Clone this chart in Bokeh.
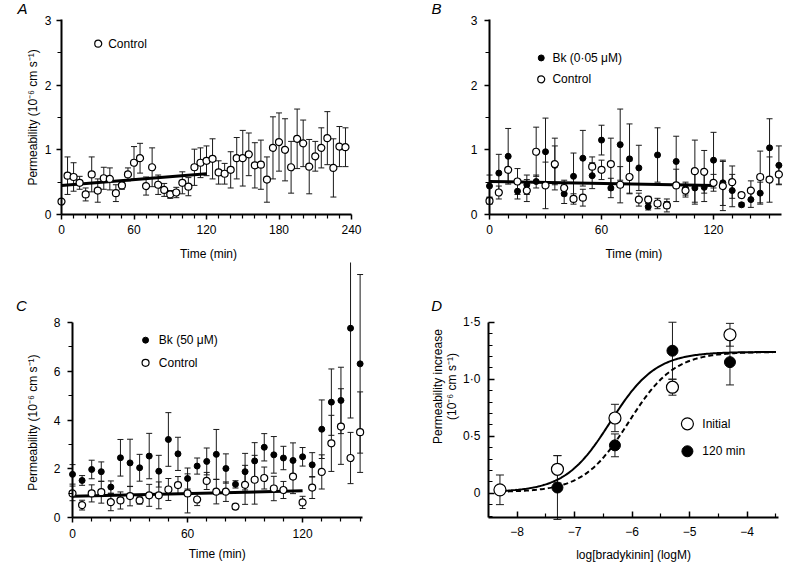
import numpy as np
from bokeh.plotting import figure
from bokeh.layouts import column, row
from bokeh.models import FixedTicker, Label, Range1d
from bokeh.embed import file_html
from bokeh.resources import INLINE

FONT = "Liberation Sans"
FS = "12px"

# ---------------- data ----------------
# Panel A: control, 0-235 min
a_time = [0, 5, 10, 15, 20, 25, 30, 35, 40, 45, 50, 55, 60, 65, 70, 75, 80, 85, 90, 95,
          100, 105, 110, 115, 120, 125, 130, 135, 140, 145, 150, 155, 160, 165, 170, 175,
          180, 185, 190, 195, 200, 205, 210, 215, 220, 225, 230, 235]
a_ctrl = [0.20, 0.60, 0.58, 0.49, 0.31, 0.62, 0.37, 0.56, 0.55, 0.33, 0.45, 0.62, 0.80, 0.87,
          0.44, 0.73, 0.46, 0.38, 0.31, 0.34, 0.49, 0.43, 0.73, 0.80, 0.83, 0.86, 0.65, 0.63,
          0.69, 0.87, 0.87, 0.93, 0.76, 0.77, 0.54, 1.03, 1.12, 1.00, 0.73, 1.17, 1.10, 0.74,
          0.90, 1.03, 1.18, 0.72, 1.05, 1.04]
a_err = [0.00, 0.29, 0.22, 0.10, 0.10, 0.27, 0.18, 0.17, 0.17, 0.13, 0.06, 0.10, 0.25, 0.23,
         0.14, 0.30, 0.15, 0.10, 0.06, 0.08, 0.17, 0.14, 0.28, 0.23, 0.23, 0.31, 0.18, 0.16,
         0.28, 0.32, 0.43, 0.33, 0.35, 0.38, 0.35, 0.48, 0.45, 0.48, 0.40, 0.46, 0.36, 0.42,
         0.23, 0.31, 0.41, 0.45, 0.31, 0.30]
a_fit = [0.45, 0.0015]       # intercept, slope (per min), fitted over 0-120 min

# Panel B: Bk 0.05 uM vs control, 0-155 min
b_time = [0, 5, 10, 15, 20, 25, 30, 35, 40, 45, 50, 55, 60, 65, 70, 75, 80, 85, 90, 95,
          100, 105, 110, 115, 120, 125, 130, 135, 140, 145, 150, 155]
b_bk = [0.44, 0.64, 0.90, 0.36, 0.46, 0.51, 0.97, 0.76, 0.32, 0.59, 0.87, 0.60, 1.15, 0.41,
        1.08, 0.86, 0.72, 0.12, 0.92, 0.15, 0.82, 0.40, 0.41, 0.42, 0.84, 0.49, 0.37, 0.15,
        0.23, 0.33, 1.03, 0.76]
b_bk_err = [0.17, 0.29, 0.43, 0.12, 0.15, 0.10, 0.52, 0.30, 0.15, 0.36, 0.43, 0.20, 0.23, 0.15,
            0.55, 0.54, 0.35, 0.05, 0.42, 0.05, 0.39, 0.10, 0.25, 0.22, 0.43, 0.35, 0.25, 0.03,
            0.12, 0.17, 0.45, 0.30]
b_ctrl = [0.21, 0.34, 0.69, 0.51, 0.37, 0.97, 0.45, 0.78, 0.41, 0.24, 0.26, 0.74, 0.69, 0.78,
          0.46, 0.58, 0.23, 0.23, 0.17, 0.14, 0.45, 0.37, 0.67, 0.66, 0.49, 0.44, 0.50, 0.30,
          0.37, 0.58, 0.54, 0.62]
b_ctrl_err = [0.05, 0.10, 0.20, 0.20, 0.17, 0.38, 0.36, 0.40, 0.12, 0.08, 0.13, 0.15, 0.15, 0.40,
              0.28, 0.25, 0.10, 0.05, 0.08, 0.10, 0.25, 0.10, 0.48, 0.33, 0.13, 0.38, 0.25, 0.04,
              0.15, 0.40, 0.35, 0.15]
b_fit = [0.51, -0.0005]

# Panel C: Bk 50 uM vs control, 0-150 min
c_time = [0, 5, 10, 15, 20, 25, 30, 35, 40, 45, 50, 55, 60, 65, 70, 75, 80, 85, 90, 95,
          100, 105, 110, 115, 120, 125, 130, 135, 140, 145, 150]
c_bk = [1.78, 1.53, 1.98, 1.89, 1.26, 2.46, 2.25, 2.05, 2.53, 1.91, 3.21, 2.62, 1.61, 2.12,
        2.31, 2.60, 2.02, 1.37, 1.89, 2.33, 2.89, 2.58, 2.45, 2.35, 2.50, 2.17, 3.63, 4.74,
        4.81, 7.77, 6.31]
c_bk_err = [0.40, 0.20, 0.38, 0.40, 0.25, 0.75, 0.97, 0.55, 0.93, 0.65, 1.10, 0.68, 0.43, 0.33,
            0.55, 1.02, 0.60, 0.15, 0.75, 0.75, 0.56, 0.75, 0.48, 0.72, 0.38, 0.50, 1.20, 1.36,
            1.36, 3.68, 3.66]
c_ctrl = [1.00, 0.52, 1.00, 1.05, 0.64, 0.71, 0.89, 0.71, 0.92, 0.92, 1.16, 1.34, 1.00, 0.75,
          1.51, 1.07, 1.07, 0.46, 1.35, 1.56, 1.63, 1.20, 1.14, 1.69, 0.63, 1.24, 1.88, 3.05,
          3.74, 2.45, 3.51]
c_ctrl_err = [0.30, 0.20, 0.35, 0.45, 0.35, 0.35, 0.40, 0.15, 0.45, 0.55, 0.45, 0.35, 0.80, 0.25,
              0.35, 0.50, 0.40, 0.10, 0.80, 1.00, 0.45, 0.50, 0.35, 0.70, 0.25, 0.45, 0.70, 1.15,
              1.55, 1.05, 1.65]
c_fit = [0.88, 0.0019]

# Panel D: concentration-response
d_init_logc = [-8.3, -7.3, -6.3, -5.3, -4.3]
d_init = [0.03, 0.21, 0.66, 0.93, 1.39]
d_init_err = [0.13, 0.12, 0.12, 0.07, 0.10]
d_120_logc = [-7.3, -6.3, -5.3, -4.3]
d_120 = [0.05, 0.42, 1.25, 1.15]
d_120_err = [0.28, 0.10, 0.25, 0.20]
# Hill fits: bottom, top, logEC50, slope
d_init_fit = [0.01, 1.24, -6.38, 1.1]
d_120_fit = [0.01, 1.24, -6.06, 1.1]


# ---------------- helpers ----------------
def make_fig(w, h, xr, yr, xbounds, ybounds, xfix, yfix):
    """Whole canvas is the frame; axes are drawn at fixed data locations."""
    p = figure(width=w, height=h, x_range=Range1d(*xr), y_range=Range1d(*yr),
               output_backend="svg", toolbar_location=None, min_border=0)
    p.outline_line_color = None
    p.grid.visible = False
    p.background_fill_color = "white"
    p.border_fill_color = "white"
    p.xaxis.fixed_location = xfix
    p.yaxis.fixed_location = yfix
    p.xaxis.bounds = xbounds
    p.yaxis.bounds = ybounds
    for ax in (p.xaxis[0], p.yaxis[0]):
        ax.axis_line_width = 2
        ax.axis_line_color = "black"
        ax.major_tick_line_width = 1.5
        ax.minor_tick_line_width = 1.2
        ax.major_tick_line_color = "black"
        ax.minor_tick_line_color = "black"
        ax.major_label_text_font = FONT
        ax.major_label_text_font_size = FS
        ax.major_label_text_color = "black"
    return p


def time_axes(p, xticks, xminor, yticks, yminor):
    p.xaxis.ticker = FixedTicker(ticks=xticks, minor_ticks=xminor)
    p.yaxis.ticker = FixedTicker(ticks=yticks, minor_ticks=yminor)
    for ax in (p.xaxis[0], p.yaxis[0]):
        ax.major_tick_out = 5
        ax.major_tick_in = 0
        ax.minor_tick_out = 4
        ax.minor_tick_in = 0
    p.xaxis.major_label_standoff = 6
    p.yaxis.major_label_standoff = 5


def label(p, x, y, text, size=FS, align="left", angle=0.0, style="normal"):
    p.add_layout(Label(x=x, y=y, text=text, text_font=FONT, text_font_size=size,
                       text_align=align, text_baseline="middle", angle=angle,
                       text_font_style=style, text_color="black"))


def errbars(p, x, y, e, cap=6, color="#1a1a1a"):
    x = np.asarray(x, float)
    y = np.asarray(y, float)
    e = np.asarray(e, float)
    p.segment(x, y - e, x, y + e, line_color=color, line_width=1)
    p.scatter(np.concatenate([x, x]), np.concatenate([y - e, y + e]), marker="dash",
              size=cap, line_color=color, line_width=1)


def open_pts(p, x, y, size=7):
    p.scatter(x, y, marker="circle", size=size, fill_color="white",
              line_color="black", line_width=1.2)


def filled_pts(p, x, y, size=6):
    p.scatter(x, y, marker="circle", size=size, fill_color="black",
              line_color="black", line_width=1)


def fit_line(p, fit, t0=0, t1=120):
    xs = np.array([t0, t1], float)
    p.line(xs, fit[0] + fit[1] * xs, line_color="black", line_width=3)


YLAB = "Permeability (10\u207b\u2076 cm s\u207b\u00b9)"
time_minor = lambda end: [t for t in range(10, end + 1, 10) if t % 60]

# ---------------- Panel A ----------------  (canvas 388 x 262)
pA = make_fig(388, 262, (-50.48, 270.6), (-0.742, 3.308), (0, 240), (0, 3.02), 0, 0)
time_axes(pA, [0, 60, 120, 180, 240], time_minor(240), [0, 1, 2, 3], [0.5, 1.5, 2.5])
errbars(pA, a_time, a_ctrl, a_err)
fit_line(pA, a_fit)
open_pts(pA, a_time, a_ctrl)
open_pts(pA, [30.4], [2.64])
label(pA, 38.6, 2.64, "Control")
label(pA, -32.3, 3.18, "A", size="15px", align="center", style="italic")
label(pA, -23.2, 1.5, YLAB, align="center", angle=np.pi / 2)
label(pA, 121.7, -0.603, "Time (min)", align="center")

# ---------------- Panel B ----------------  (canvas 400 x 262)
pB = make_fig(400, 262, (-54.1, 160.15), (-0.742, 3.308), (0, 156.4), (0, 3.02), 0, 0)
time_axes(pB, [0, 60, 120], time_minor(150), [0, 1, 2, 3], [0.5, 1.5, 2.5])
pB.yaxis.major_label_standoff = 7
errbars(pB, b_time, b_bk, b_bk_err)
errbars(pB, b_time, b_ctrl, b_ctrl_err)
fit_line(pB, b_fit)
filled_pts(pB, b_time, b_bk)
open_pts(pB, b_time, b_ctrl)
filled_pts(pB, [27.7], [2.42])
open_pts(pB, [27.7], [2.09])
label(pB, 33.7, 2.42, "Bk (0\u00b705 \u03bcM)")
label(pB, 33.7, 2.09, "Control")
label(pB, -28.4, 3.18, "B", size="15px", align="center", style="italic")
label(pB, 77.3, -0.618, "Time (min)", align="center")

# ---------------- Panel C ----------------  (canvas 388 x 316)
pC = make_fig(388, 316, (-37.56, 164.8), (-2.488, 10.463), (0, 151.3), (0, 8), 0, 0)
time_axes(pC, [0, 60, 120], time_minor(150), [0, 2, 4, 6, 8], [1, 3, 5, 7])
pC.yaxis.major_label_standoff = 7
errbars(pC, c_time, c_bk, c_bk_err)
errbars(pC, c_time, c_ctrl, c_ctrl_err)
fit_line(pC, c_fit)
filled_pts(pC, c_time, c_bk)
open_pts(pC, c_time, c_ctrl)
filled_pts(pC, [38.1], [7.28])
open_pts(pC, [38.1], [6.35])
label(pC, 45.0, 7.28, "Bk (50 \u03bcM)")
label(pC, 45.0, 6.35, "Control")
label(pC, -26.6, 8.70, "C", size="15px", align="center", style="italic")
label(pC, -20.7, 3.9, YLAB, align="center", angle=np.pi / 2)
label(pC, 75.5, -1.504, "Time (min)", align="center")

# ---------------- Panel D ----------------  (canvas 400 x 316)
pD = make_fig(400, 316, (-10.238, -3.282), (-0.748, 2.024), (-8.5, -3.457), (-0.211, 1.5),
              -0.211, -8.5)
pD.xaxis.ticker = FixedTicker(ticks=[-8, -7, -6, -5, -4],
                              minor_ticks=[-7.5, -6.5, -5.5, -4.5, -3.5])
pD.yaxis.ticker = FixedTicker(ticks=[0, 0.5, 1.0, 1.5],
                              minor_ticks=[-0.2, -0.1, 0.1, 0.2, 0.3, 0.4, 0.6, 0.7, 0.8, 0.9,
                                           1.1, 1.2, 1.3, 1.4])
pD.xaxis.major_label_overrides = {-8: "\u22128", -7: "\u22127", -6: "\u22126",
                                  -5: "\u22125", -4: "\u22124"}
pD.yaxis.major_label_overrides = {0: "0", 0.5: "0\u00b75", 1: "1\u00b70", 1.5: "1\u00b75"}
for ax in (pD.xaxis[0], pD.yaxis[0]):
    ax.major_tick_out = 0
    ax.minor_tick_out = 0
    ax.major_tick_in = 6
    ax.minor_tick_in = 4
pD.xaxis.major_label_standoff = 10
pD.yaxis.major_label_standoff = 8

xs = np.linspace(-8.3, -3.5, 200)


def hill(x, f):
    return f[0] + (f[1] - f[0]) / (1 + 10 ** ((f[2] - x) * f[3]))


errbars(pD, d_init_logc, d_init, d_init_err, cap=8)
errbars(pD, d_120_logc, d_120, d_120_err, cap=8)
pD.line(xs, hill(xs, d_init_fit), line_color="black", line_width=2)
pD.line(xs, hill(xs, d_120_fit), line_color="black", line_width=2, line_dash="5 3")
filled_pts(pD, d_120_logc, d_120, size=11)
open_pts(pD, d_init_logc, d_init, size=12)
open_pts(pD, [-5.04], [0.609], size=12)
filled_pts(pD, [-5.04], [0.368], size=11)
label(pD, -4.78, 0.609, "Initial")
label(pD, -4.78, 0.368, "120 min")
label(pD, -9.40, 1.646, "D", size="15px", align="center", style="italic")
label(pD, -9.37, 0.936, "Permeability increase", align="center", angle=np.pi / 2)
label(pD, -9.14, 0.936, "(10\u207b\u2076 cm s\u207b\u00b9)", align="center", angle=np.pi / 2)
label(pD, -5.977, -0.544, "log[bradykinin] (logM)", align="center")

layout = column(row(pA, pB), row(pC, pD))
open("out.html", "w").write(file_html(layout, INLINE))
